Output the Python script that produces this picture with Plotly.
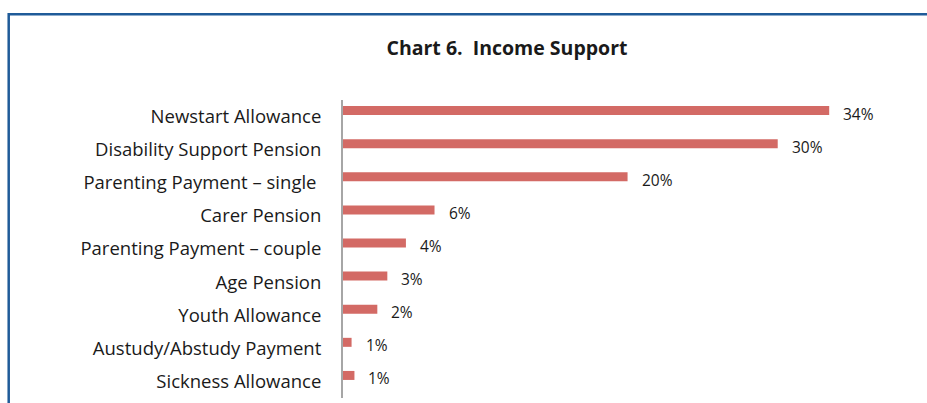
import plotly.graph_objects as go

# Share of income support recipients by payment type (%)
payments = [
    "Newstart Allowance",
    "Disability Support Pension",
    "Parenting Payment – single\u00a0",
    "Carer Pension",
    "Parenting Payment – couple",
    "Age Pension",
    "Youth Allowance",
    "Austudy/Abstudy Payment",
    "Sickness Allowance",
]
shares = [34.0, 30.4, 19.9, 6.4, 4.4, 3.1, 2.4, 0.6, 0.8]

BAR_COLOR = "#d36a65"
TEXT_COLOR = "#1a1a1a"
FRAME_COLOR = "#1f5b99"
FONT = "Open Sans"

W, H = 927, 403
L, R, T, B = 343, 12, 100, 5
plot_w = W - L - R
plot_h = H - T - B
cat_px = plot_h / len(payments)

fig = go.Figure()
fig.add_trace(go.Bar(
    x=shares,
    y=payments,
    orientation="h",
    marker=dict(color=BAR_COLOR, line=dict(width=0)),
    width=9 / cat_px,
    offset=-10.5 / cat_px,
    hoverinfo="skip",
))

# value labels to the right of each bar
for name, v in zip(payments, shares):
    fig.add_annotation(
        x=v, y=name, xref="x", yref="y",
        text=f"{v:.0f}%", showarrow=False,
        xanchor="left", yanchor="middle",
        xshift=12, yshift=3,
        font=dict(family=FONT, size=15.5, color=TEXT_COLOR),
    )

# outer frame (top and left edges visible)
px_to_x = lambda p: (p - L) / plot_w
px_to_y = lambda p: (H - B - p) / plot_h
fig.add_shape(
    type="rect", xref="paper", yref="paper",
    x0=px_to_x(8.7), x1=px_to_x(W + 20),
    y0=px_to_y(H + 20), y1=px_to_y(14.3),
    line=dict(color=FRAME_COLOR, width=2.5),
    fillcolor="rgba(0,0,0,0)", layer="above",
)

fig.update_layout(
    width=W, height=H,
    margin=dict(l=L, r=R, t=T, b=B, pad=0),
    paper_bgcolor="white", plot_bgcolor="white",
    showlegend=False,
    title=dict(
        text="<b>Chart 6.  Income Support</b>",
        x=507 / W, xanchor="center",
        y=1 - 48 / H, yanchor="middle",
        font=dict(family=FONT, size=19.5, color=TEXT_COLOR),
    ),
    xaxis=dict(
        range=[0, 40], visible=False, showgrid=False, zeroline=False,
    ),
    yaxis=dict(
        categoryorder="array", categoryarray=payments,
        autorange="reversed",
        showline=True, linecolor="#a6a6a6", linewidth=2,
        showgrid=False, zeroline=False,
        ticks="outside", ticklen=16, tickcolor="rgba(0,0,0,0)",
        tickfont=dict(family=FONT, size=18.5, color=TEXT_COLOR),
    ),
)

fig.write_html("out.html")
